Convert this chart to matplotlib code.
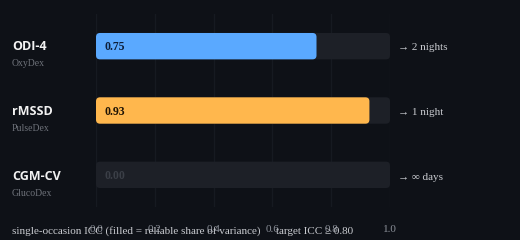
import matplotlib
matplotlib.use("Agg")
import matplotlib.pyplot as plt
from matplotlib.patches import FancyBboxPatch

# data
metrics = ["ODI-4", "rMSSD", "CGM-CV"]
sources = ["OxyDex", "PulseDex", "GlucoDex"]
icc = [0.75, 0.93, 0.00]
nights_needed = ["\u2192 2 nights", "\u2192 1 night", "\u2192 \u221e days"]
bar_colors = ["#5aa9ff", "#ffb74d", "#2a2d35"]
value_colors = ["#0d1f3a", "#1f1405", "#3b3f47"]
xticks = [0.0, 0.2, 0.4, 0.6, 0.8, 1.0]

BG = "#0e1117"
TRACK = "#1d2027"
SERIF = "Liberation Serif"

fig = plt.figure(figsize=(5.2, 2.4), dpi=100, facecolor=BG)
W, H = 520, 240
ax = fig.add_axes([96 / W, 1 - 207 / H, (390 - 96) / W, (207 - 14) / H])
ax.set_facecolor(BG)
ax.set_xlim(0, 1.0)
ax.set_ylim(2.5, -0.5)

for s in ax.spines.values():
    s.set_visible(False)

for t in xticks:
    ax.axvline(t, color="#161a21", lw=1.0, zorder=0)

bar_h = 0.41
aspect = 294 / 64.3
rs = 4 / 294

for i, v in enumerate(icc):
    track = FancyBboxPatch((0, i - bar_h / 2), 1.0, bar_h,
                           boxstyle=f"round,pad=0,rounding_size={rs}",
                           mutation_aspect=aspect, fc=TRACK, ec="none", zorder=1)
    ax.add_patch(track)
    if v > 0:
        bar = FancyBboxPatch((0, i - bar_h / 2), v, bar_h,
                             boxstyle=f"round,pad=0,rounding_size={rs}",
                             mutation_aspect=aspect, fc=bar_colors[i], ec="none", zorder=2)
        ax.add_patch(bar)
    ax.text(0.028, i + 0.02, f"{v:.2f}", color=value_colors[i], fontsize=8.5,
            fontweight="bold", family=SERIF, va="center", ha="left", zorder=3)

    yc = 1 - (47 + 64.5 * i) / H
    fig.text(12 / W, yc, metrics[i], color="#f2f2f2", fontsize=9,
             fontweight="bold", family="Open Sans", va="center", ha="left")
    fig.text(12 / W, yc - 17 / H, sources[i], color="#6e727a", fontsize=7,
             family=SERIF, va="center", ha="left")
    fig.text(398 / W, yc - 1 / H, nights_needed[i], color="#c9cbd0", fontsize=8,
             family=SERIF, va="center", ha="left")

ax.set_yticks([])
ax.set_xticks(xticks)
ax.set_xticklabels([f"{t:.1f}" for t in xticks], family=SERIF, fontsize=8,
                   color="#8a8f98")
ax.tick_params(axis="x", length=0, pad=13)

fig.text(12 / W, 1 - 231 / H,
         "single-occasion ICC (filled = reliable share of variance)",
         color="#c9cbd0", fontsize=8, family=SERIF, va="center", ha="left")
fig.text(276 / W, 1 - 231 / H, "target ICC \u2265 0.80",
         color="#c9cbd0", fontsize=8, family=SERIF, va="center", ha="left")

fig.savefig("out.png", dpi=100, facecolor=BG)
